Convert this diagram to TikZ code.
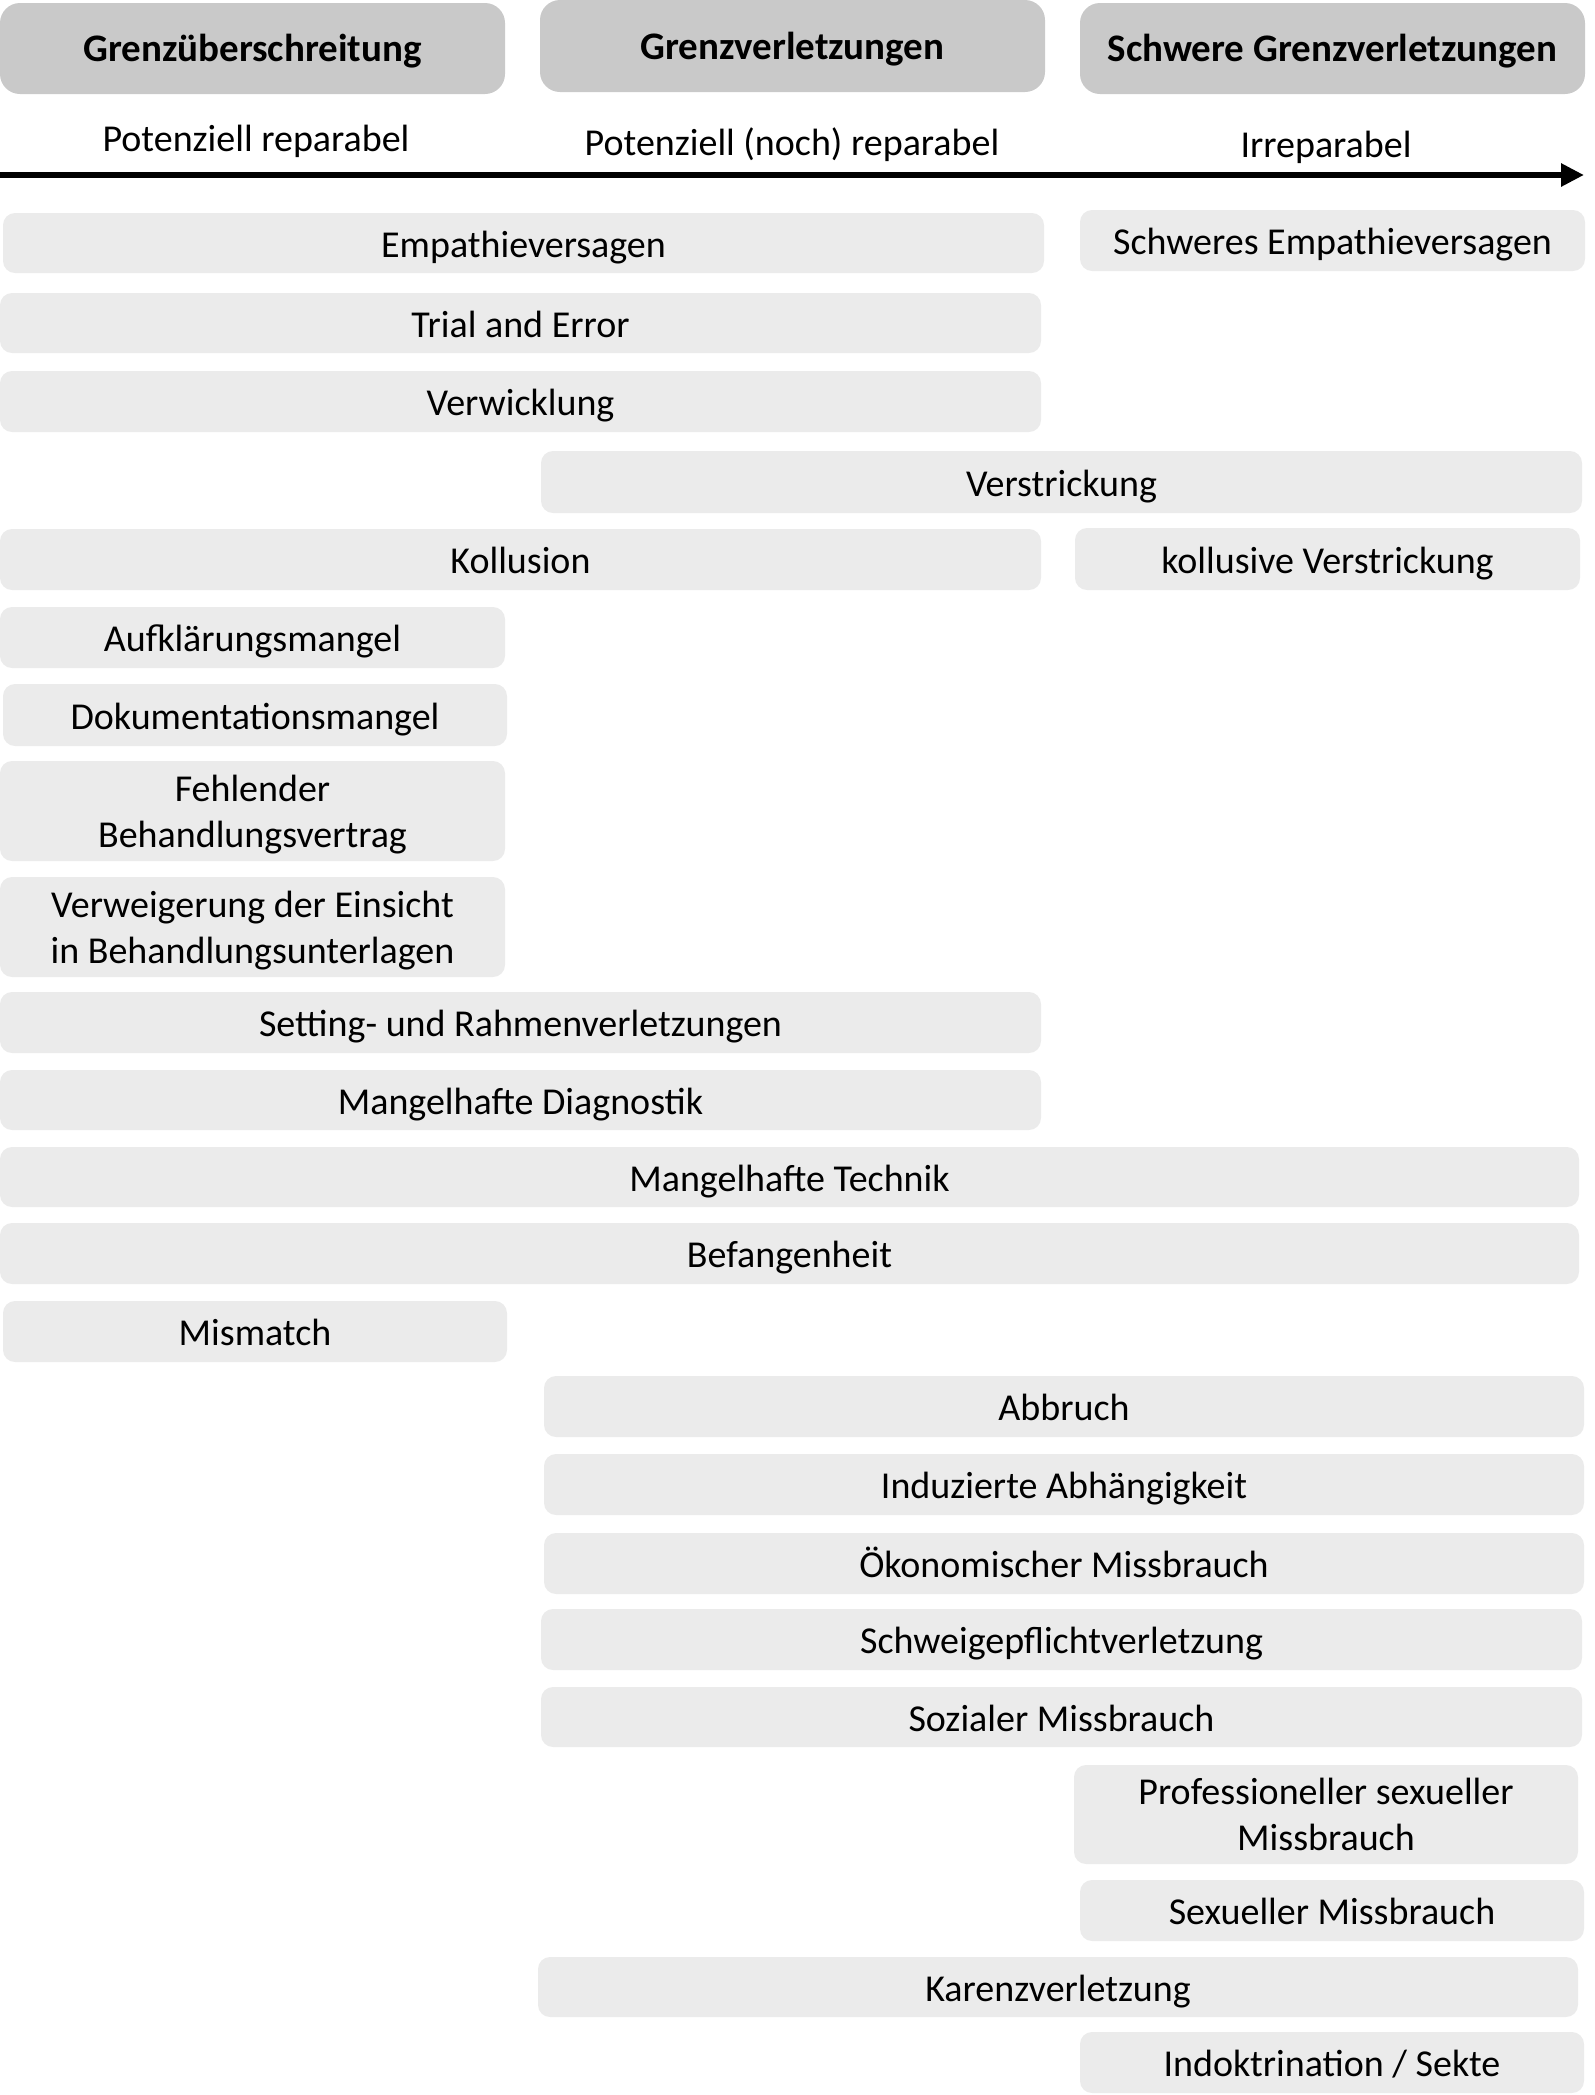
\documentclass[tikz,border=0pt]{standalone}
\usepackage{fontspec}
\setmainfont{Carlito}
\usetikzlibrary{arrows.meta}
\definecolor{hdrgray}{HTML}{C9C9C9}
\definecolor{rowgray}{HTML}{EBEBEB}
\newcommand\bx[7][rowbox]{\node[#1, minimum width={(#5-#3)*0.5pt}, minimum height={(#6-#4)*0.5pt}] (#2) at ({(#3+#5)/2},{(#4+#6)/2}) {#7};}
\newcommand\topstrut{\rule{0pt}{17pt}}
\tikzset{
  basebox/.style={fill=rowgray, rounded corners=6pt, inner sep=0pt, font=\fontsize{19}{23}\selectfont},
  rowbox/.style={basebox, text height=16pt, text depth=2pt},
  multibox/.style={basebox, align=center},
  hdrbox/.style={fill=hdrgray, rounded corners=10pt, inner sep=0pt, font=\bfseries\fontsize{19.5}{23}\selectfont, text height=15pt, text depth=2pt},
  subtxt/.style={inner sep=0pt, anchor=base, font=\fontsize{19}{23}\selectfont},
  axis/.style={line width=3pt, -{Triangle[length=11.5pt,width=11pt]}}
}
\begin{document}
\begin{tikzpicture}[x=0.5pt,y=-0.5pt]
\useasboundingbox (0,0) rectangle (1595,2095);
% headers
\bx[hdrbox]{h1}{0}{3}{505}{94}{Grenzüberschreitung}
\bx[hdrbox]{h2}{540}{0}{1045}{92}{Grenzverletzungen}
\bx[hdrbox]{h3}{1080}{3}{1585}{94}{Schwere Grenzverletzungen}
% subtitles
\node[subtxt] (s1) at (256,151) {Potenziell reparabel};
\node[subtxt] (s2) at (792,155) {Potenziell (noch) reparabel};
\node[subtxt] (s3) at (1326,157) {Irreparabel};
% axis
\coordinate (a0) at (0,175);
\coordinate (a1) at (1584,175);
\draw[axis] (a0) -- (a1);
% rows
\bx{r1}{3}{213}{1044}{273}{Empathieversagen}
\bx{r1b}{1080}{210}{1585}{271}{Schweres Empathieversagen}
\bx{r2}{0}{293}{1041}{353}{Trial and Error}
\bx{r3}{0}{371}{1041}{432}{Verwicklung}
\bx{r4}{541}{451}{1582}{513}{Verstrickung}
\bx{r5}{0}{529}{1041}{590}{Kollusion}
\bx{r5b}{1075}{528}{1580}{590}{kollusive Verstrickung}
\bx{r6}{0}{607}{505}{668}{Aufklärungsmangel}
\bx{r7}{3}{684}{507}{746}{Dokumentationsmangel}
\bx[multibox]{r8}{0}{761}{505}{861}{\topstrut Fehlender\\Behandlungsvertrag}
\bx[multibox]{r9}{0}{877}{505}{977}{\topstrut Verweigerung der Einsicht\\in Behandlungsunterlagen}
\bx{r10}{0}{992}{1041}{1053}{Setting- und Rahmenverletzungen}
\bx{r11}{0}{1070}{1041}{1130}{Mangelhafte Diagnostik}
\bx{r12}{0}{1147}{1579}{1207}{Mangelhafte Technik}
\bx{r13}{0}{1223}{1579}{1284}{Befangenheit}
\bx{r14}{3}{1301}{507}{1362}{Mismatch}
\bx{r15}{544}{1376}{1584}{1437}{Abbruch}
\bx{r16}{544}{1454}{1584}{1515}{Induzierte Abhängigkeit}
\bx{r17}{544}{1533}{1584}{1594}{Ökonomischer Missbrauch}
\bx{r18}{541}{1609}{1582}{1670}{Schweigepflichtverletzung}
\bx{r19}{541}{1687}{1582}{1747}{Sozialer Missbrauch}
\bx[multibox]{r20}{1074}{1765}{1578}{1864}{Professioneller sexueller\\Missbrauch}
\bx{r21}{1080}{1880}{1584}{1941}{Sexueller Missbrauch}
\bx{r22}{538}{1957}{1578}{2017}{Karenzverletzung}
\bx{r23}{1080}{2032}{1584}{2093}{Indoktrination / Sekte}
\end{tikzpicture}
\end{document}
